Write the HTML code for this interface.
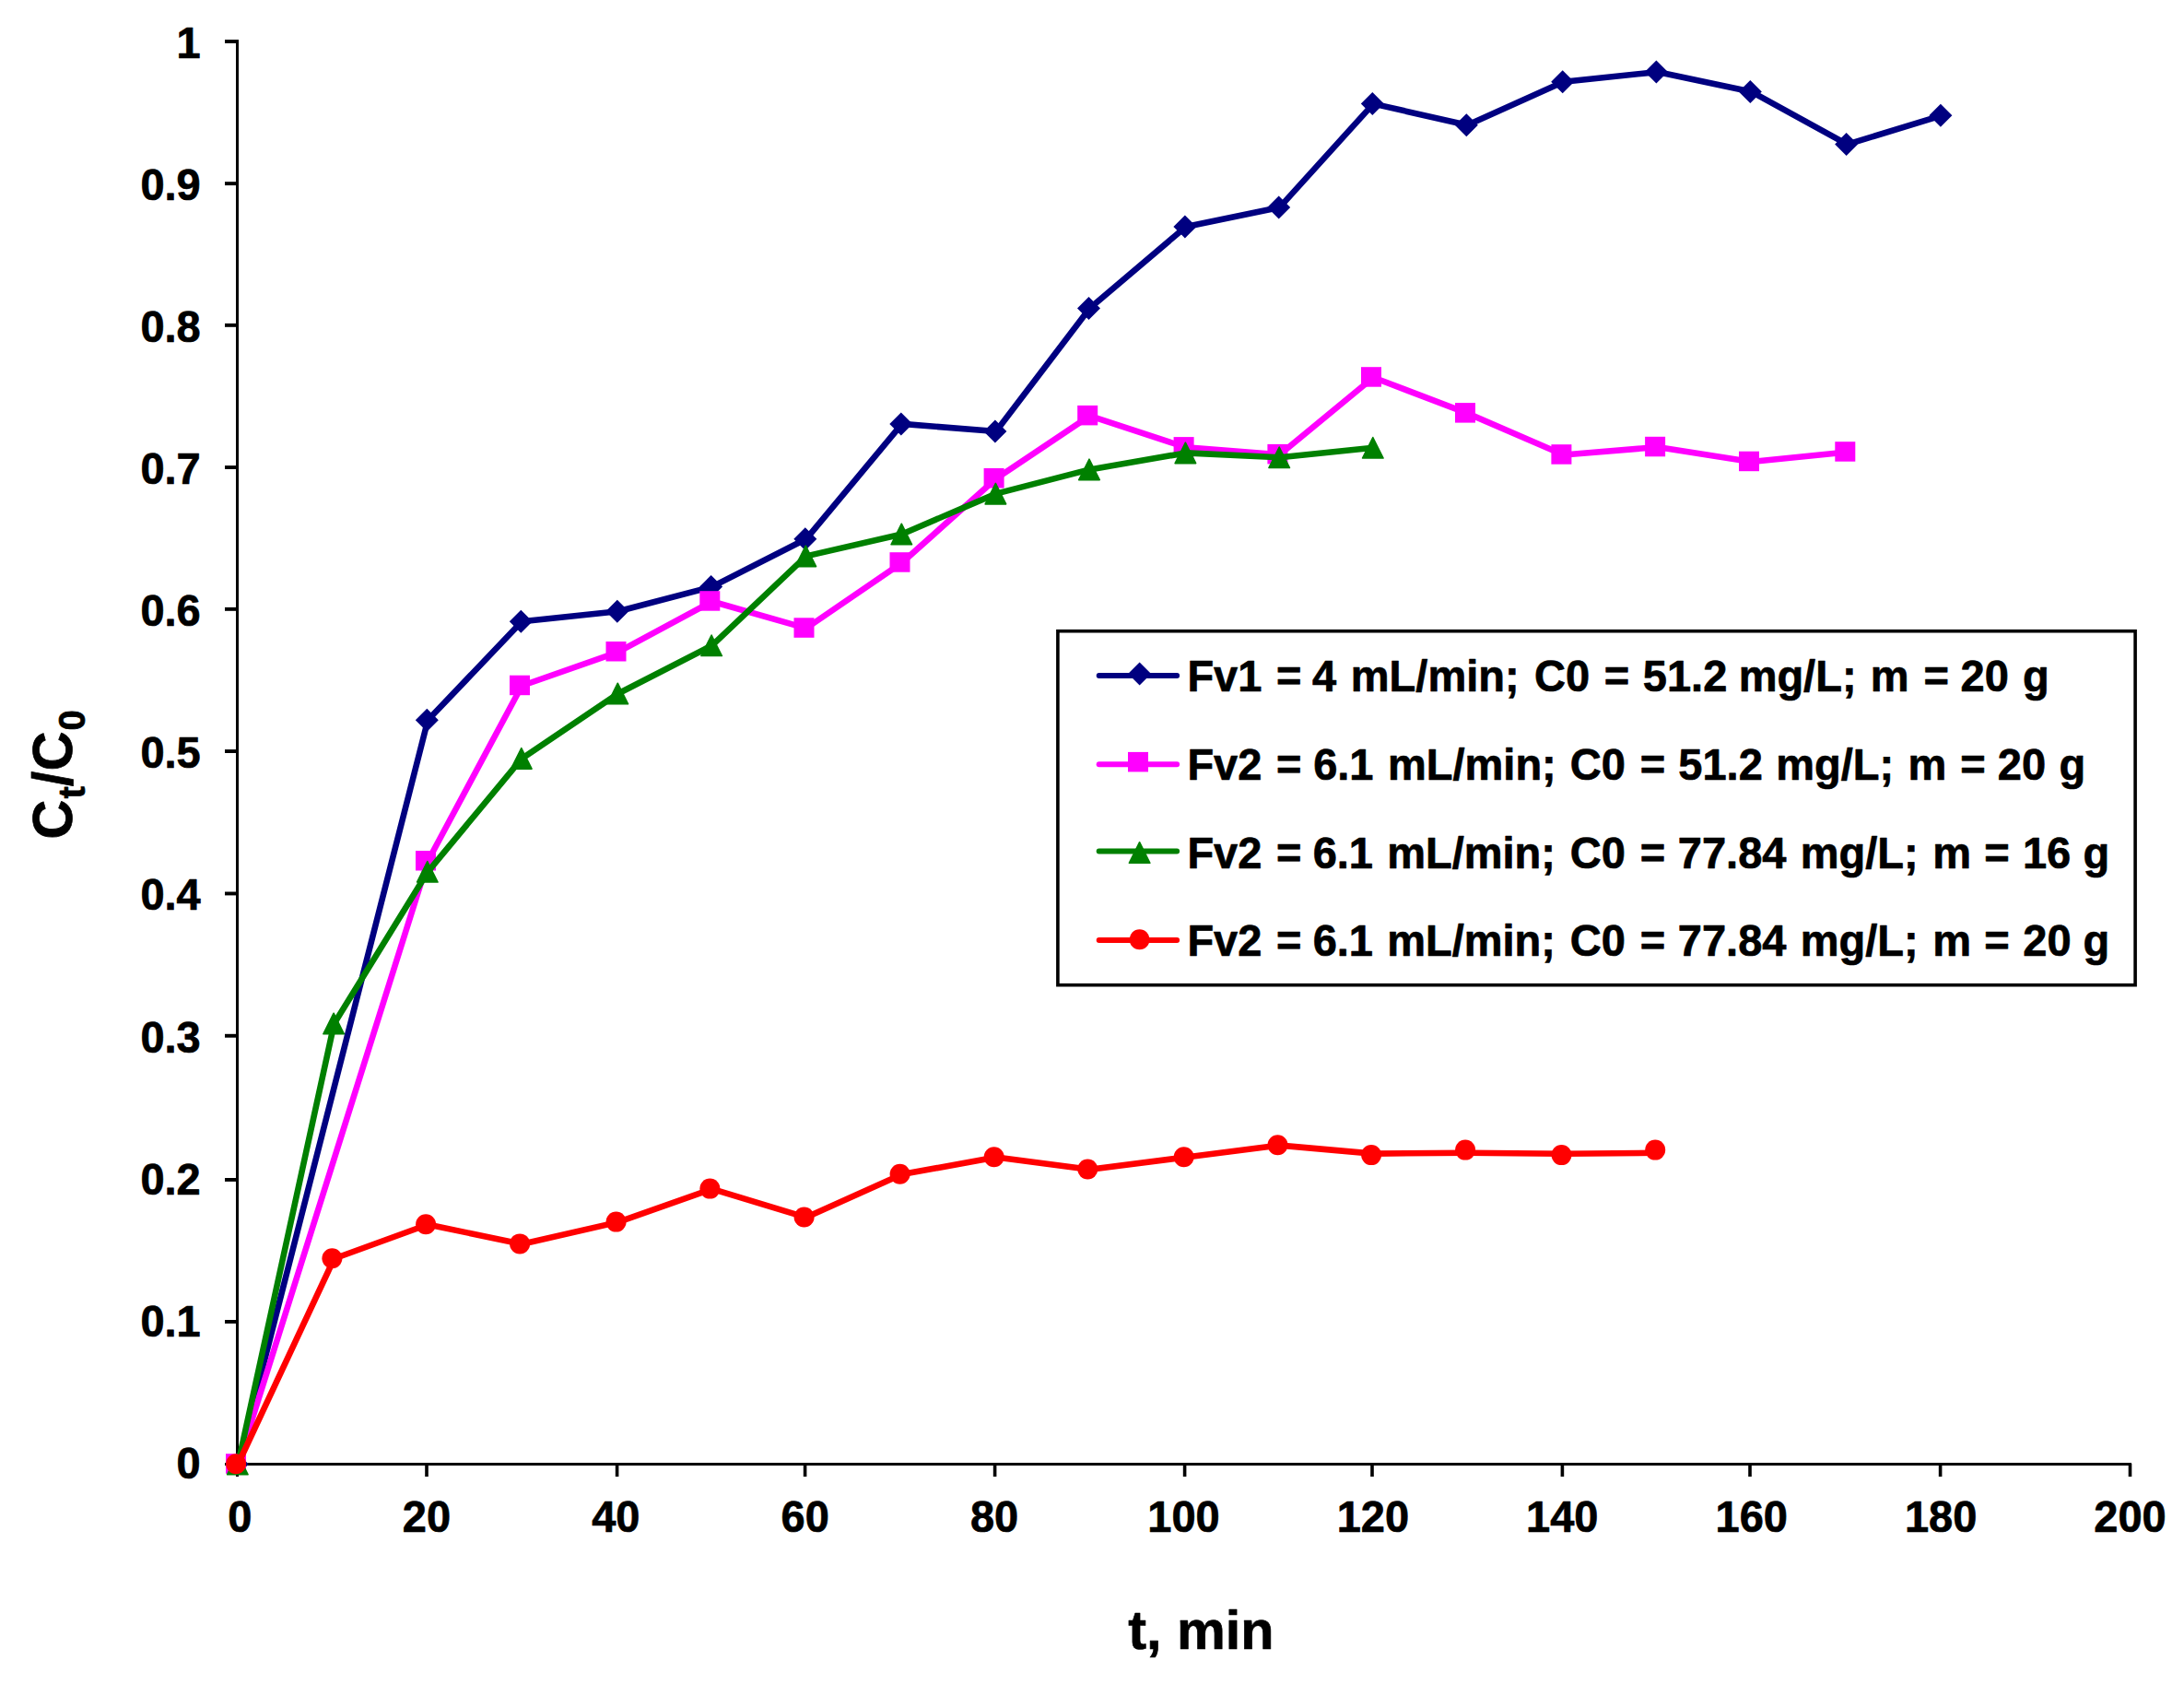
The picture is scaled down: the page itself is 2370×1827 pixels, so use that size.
<!DOCTYPE html>
<html lang="en"><head><meta charset="utf-8"><title>Breakthrough curves</title>
<style>html,body{margin:0;padding:0;background:#fff}body{width:2370px;height:1827px;overflow:hidden}svg{display:block}text{font-family:"Liberation Sans",Arial,Helvetica,sans-serif;font-weight:bold;fill:#000;stroke:#000;stroke-width:0.7px;stroke-linejoin:round}.tk,.lg{font-size:47px}.ti{font-size:59.4px}.sb{font-size:40px}</style></head><body>
<svg width="2370" height="1827" viewBox="0 0 2370 1827">
<rect x="0" y="0" width="2370" height="1827" fill="#fff"/>
<g fill="#000">
<rect x="256" y="43" width="3" height="1559"/>
<rect x="244" y="1587" width="2069" height="3"/>
<rect x="244" y="1432" width="13" height="3.9"/>
<rect x="244" y="1278" width="13" height="3.9"/>
<rect x="244" y="1121.8" width="13" height="3.9"/>
<rect x="244" y="967.5" width="13" height="3.9"/>
<rect x="244" y="813.1" width="13" height="3.9"/>
<rect x="244" y="658.9" width="13" height="3.9"/>
<rect x="244" y="505.1" width="13" height="3.9"/>
<rect x="244" y="350.9" width="13" height="3.9"/>
<rect x="244" y="197.2" width="13" height="3.9"/>
<rect x="244" y="43" width="13" height="3.9"/>
<rect x="461.2" y="1588" width="3.6" height="14"/>
<rect x="667.8" y="1588" width="3.6" height="14"/>
<rect x="871.8" y="1588" width="3.6" height="14"/>
<rect x="1077.8" y="1588" width="3.6" height="14"/>
<rect x="1283.8" y="1588" width="3.6" height="14"/>
<rect x="1487.2" y="1588" width="3.6" height="14"/>
<rect x="1693.6" y="1588" width="3.6" height="14"/>
<rect x="1897.2" y="1588" width="3.6" height="14"/>
<rect x="2103.8" y="1588" width="3.6" height="14"/>
<rect x="2309.7" y="1588" width="3.6" height="14"/>
</g>
<g>
<text class="tk" text-anchor="end" transform="translate(217.7 1603.7) scale(1 1.025)">0</text>
<text class="tk" text-anchor="end" transform="translate(217.7 1449.6) scale(1 1.025)">0.1</text>
<text class="tk" text-anchor="end" transform="translate(217.7 1295.5) scale(1 1.025)">0.2</text>
<text class="tk" text-anchor="end" transform="translate(217.7 1141.5) scale(1 1.025)">0.3</text>
<text class="tk" text-anchor="end" transform="translate(217.7 987.4) scale(1 1.025)">0.4</text>
<text class="tk" text-anchor="end" transform="translate(217.7 833.3) scale(1 1.025)">0.5</text>
<text class="tk" text-anchor="end" transform="translate(217.7 679.2) scale(1 1.025)">0.6</text>
<text class="tk" text-anchor="end" transform="translate(217.7 525.1) scale(1 1.025)">0.7</text>
<text class="tk" text-anchor="end" transform="translate(217.7 371.1) scale(1 1.025)">0.8</text>
<text class="tk" text-anchor="end" transform="translate(217.7 217) scale(1 1.025)">0.9</text>
<text class="tk" text-anchor="end" transform="translate(217.7 62.9) scale(1 1.025)">1</text>
</g>
<g>
<text class="tk" text-anchor="middle" transform="translate(260.3 1661.7) scale(1 1.025)">0</text>
<text class="tk" text-anchor="middle" transform="translate(462.9 1661.7) scale(1 1.025)">20</text>
<text class="tk" text-anchor="middle" transform="translate(668.3 1661.7) scale(1 1.025)">40</text>
<text class="tk" text-anchor="middle" transform="translate(873.7 1661.7) scale(1 1.025)">60</text>
<text class="tk" text-anchor="middle" transform="translate(1079.1 1661.7) scale(1 1.025)">80</text>
<text class="tk" text-anchor="middle" transform="translate(1284.5 1661.7) scale(1 1.025)">100</text>
<text class="tk" text-anchor="middle" transform="translate(1489.9 1661.7) scale(1 1.025)">120</text>
<text class="tk" text-anchor="middle" transform="translate(1695.3 1661.7) scale(1 1.025)">140</text>
<text class="tk" text-anchor="middle" transform="translate(1900.7 1661.7) scale(1 1.025)">160</text>
<text class="tk" text-anchor="middle" transform="translate(2106.1 1661.7) scale(1 1.025)">180</text>
<text class="tk" text-anchor="middle" transform="translate(2311.5 1661.7) scale(1 1.025)">200</text>
</g>
<text class="ti" x="1224.2" y="1789.2">t, min</text>
<g transform="translate(78.3 911) rotate(-90) scale(1 1.025)"><text class="ti" x="0.5" y="0">C<tspan class="sb" x="44.5" dy="12.9">t</tspan><tspan x="57.7" dy="-12.9">/</tspan><tspan x="74.7">C</tspan><tspan class="sb" x="118.5" dy="12.9">0</tspan></text></g>
<g>
<polyline points="257,1588.5 463,781.3 565,674.3 669.5,663.3 771.3,636.6 873.5,584.8 977.5,459.9 1079.6,468 1181.2,334.6 1285.6,245.9 1387.4,224.9 1489,112.6 1591,135.8 1695.4,88.7 1797.1,78.1 1899,99.4 2003.3,156.6 2105.6,125.3" fill="none" stroke="#000080" stroke-width="6.6" stroke-linejoin="round" stroke-linecap="round" transform="translate(1.3 0)"/>
<path d="M257.3 1576L269.8 1588.5L257.3 1601L244.8 1588.5Z" fill="#000080"/>
<path d="M463.3 768.8L475.8 781.3L463.3 793.8L450.8 781.3Z" fill="#000080"/>
<path d="M565.3 661.8L577.8 674.3L565.3 686.8L552.8 674.3Z" fill="#000080"/>
<path d="M669.8 650.8L682.3 663.3L669.8 675.8L657.3 663.3Z" fill="#000080"/>
<path d="M771.6 624.1L784.1 636.6L771.6 649.1L759.1 636.6Z" fill="#000080"/>
<path d="M873.8 572.3L886.3 584.8L873.8 597.3L861.3 584.8Z" fill="#000080"/>
<path d="M977.8 447.4L990.3 459.9L977.8 472.4L965.3 459.9Z" fill="#000080"/>
<path d="M1079.9 455.5L1092.4 468L1079.9 480.5L1067.4 468Z" fill="#000080"/>
<path d="M1181.5 322.1L1194 334.6L1181.5 347.1L1169 334.6Z" fill="#000080"/>
<path d="M1285.9 233.4L1298.4 245.9L1285.9 258.4L1273.4 245.9Z" fill="#000080"/>
<path d="M1387.7 212.4L1400.2 224.9L1387.7 237.4L1375.2 224.9Z" fill="#000080"/>
<path d="M1489.3 100.1L1501.8 112.6L1489.3 125.1L1476.8 112.6Z" fill="#000080"/>
<path d="M1591.3 123.3L1603.8 135.8L1591.3 148.3L1578.8 135.8Z" fill="#000080"/>
<path d="M1695.7 76.2L1708.2 88.7L1695.7 101.2L1683.2 88.7Z" fill="#000080"/>
<path d="M1797.4 65.6L1809.9 78.1L1797.4 90.6L1784.9 78.1Z" fill="#000080"/>
<path d="M1899.3 86.9L1911.8 99.4L1899.3 111.9L1886.8 99.4Z" fill="#000080"/>
<path d="M2003.6 144.1L2016.1 156.6L2003.6 169.1L1991.1 156.6Z" fill="#000080"/>
<path d="M2105.9 112.8L2118.4 125.3L2105.9 137.8L2093.4 125.3Z" fill="#000080"/>
</g>
<g>
<polyline points="257,1588.5 463,934.3 565,744 669.5,707.3 771.3,652.5 873.5,681.6 977.5,610.5 1079.6,519.3 1181.2,451.2 1285.6,485.4 1387.4,493.2 1489,409.5 1591,448.4 1695.4,493.5 1797.1,485.1 1899,501 2003.3,490.5" fill="none" stroke="#ff00ff" stroke-width="6.6" stroke-linejoin="round" stroke-linecap="round" transform="translate(1.3 0)"/>
<rect x="245" y="1577.2" width="22" height="21.5" fill="#ff00ff"/>
<rect x="451" y="923" width="22" height="21.5" fill="#ff00ff"/>
<rect x="553" y="732.7" width="22" height="21.5" fill="#ff00ff"/>
<rect x="657.5" y="696" width="22" height="21.5" fill="#ff00ff"/>
<rect x="759.3" y="641.2" width="22" height="21.5" fill="#ff00ff"/>
<rect x="861.5" y="670.3" width="22" height="21.5" fill="#ff00ff"/>
<rect x="965.5" y="599.2" width="22" height="21.5" fill="#ff00ff"/>
<rect x="1067.6" y="508" width="22" height="21.5" fill="#ff00ff"/>
<rect x="1169.2" y="439.9" width="22" height="21.5" fill="#ff00ff"/>
<rect x="1273.6" y="474.1" width="22" height="21.5" fill="#ff00ff"/>
<rect x="1375.4" y="481.9" width="22" height="21.5" fill="#ff00ff"/>
<rect x="1477" y="398.2" width="22" height="21.5" fill="#ff00ff"/>
<rect x="1579" y="437.1" width="22" height="21.5" fill="#ff00ff"/>
<rect x="1683.4" y="482.2" width="22" height="21.5" fill="#ff00ff"/>
<rect x="1785.1" y="473.8" width="22" height="21.5" fill="#ff00ff"/>
<rect x="1887" y="489.7" width="22" height="21.5" fill="#ff00ff"/>
<rect x="1991.3" y="479.2" width="22" height="21.5" fill="#ff00ff"/>
</g>
<g>
<polyline points="257,1588.5 361.3,1110.5 463,945.8 565,822.9 669.5,752.5 771.3,700.3 873.5,603.4 977.5,579.5 1079.6,535.6 1181.2,509.4 1285.6,491.4 1387.4,496.3 1489,485.8" fill="none" stroke="#008000" stroke-width="6.6" stroke-linejoin="round" stroke-linecap="round" transform="translate(1.3 0)"/>
<path d="M257.8 1577.2L269.1 1599.8L246.5 1599.8Z" fill="#008000" stroke="#008000" stroke-width="1.5" stroke-linejoin="round"/>
<path d="M362.1 1099.2L373.4 1121.8L350.8 1121.8Z" fill="#008000" stroke="#008000" stroke-width="1.5" stroke-linejoin="round"/>
<path d="M463.8 934.5L475.1 957.1L452.5 957.1Z" fill="#008000" stroke="#008000" stroke-width="1.5" stroke-linejoin="round"/>
<path d="M565.8 811.6L577.1 834.2L554.5 834.2Z" fill="#008000" stroke="#008000" stroke-width="1.5" stroke-linejoin="round"/>
<path d="M670.3 741.2L681.6 763.8L659 763.8Z" fill="#008000" stroke="#008000" stroke-width="1.5" stroke-linejoin="round"/>
<path d="M772.1 689L783.4 711.6L760.8 711.6Z" fill="#008000" stroke="#008000" stroke-width="1.5" stroke-linejoin="round"/>
<path d="M874.3 592.1L885.6 614.7L863 614.7Z" fill="#008000" stroke="#008000" stroke-width="1.5" stroke-linejoin="round"/>
<path d="M978.3 568.2L989.6 590.8L967 590.8Z" fill="#008000" stroke="#008000" stroke-width="1.5" stroke-linejoin="round"/>
<path d="M1080.4 524.3L1091.7 546.9L1069.1 546.9Z" fill="#008000" stroke="#008000" stroke-width="1.5" stroke-linejoin="round"/>
<path d="M1182 498.1L1193.3 520.7L1170.7 520.7Z" fill="#008000" stroke="#008000" stroke-width="1.5" stroke-linejoin="round"/>
<path d="M1286.4 480.1L1297.7 502.7L1275.1 502.7Z" fill="#008000" stroke="#008000" stroke-width="1.5" stroke-linejoin="round"/>
<path d="M1388.2 485L1399.5 507.6L1376.9 507.6Z" fill="#008000" stroke="#008000" stroke-width="1.5" stroke-linejoin="round"/>
<path d="M1489.8 474.5L1501.1 497.1L1478.5 497.1Z" fill="#008000" stroke="#008000" stroke-width="1.5" stroke-linejoin="round"/>
</g>
<g>
<polyline points="257,1588.5 361.3,1365.5 463,1328.5 565,1349.7 669.5,1325.9 771.3,1289.9 873.5,1320.8 977.5,1274.1 1079.6,1255.5 1181.2,1268.8 1285.6,1255.5 1387.4,1242.6 1489,1251.6 1591,1250.7 1695.4,1251.8 1797.1,1250.8" fill="none" stroke="#ff0000" stroke-width="6.6" stroke-linejoin="round" stroke-linecap="round" transform="translate(1.3 0)"/>
<circle cx="256.1" cy="1588.2" r="11" fill="#ff0000"/>
<circle cx="360.4" cy="1365.2" r="11" fill="#ff0000"/>
<circle cx="462.1" cy="1328.2" r="11" fill="#ff0000"/>
<circle cx="564.1" cy="1349.4" r="11" fill="#ff0000"/>
<circle cx="668.6" cy="1325.6" r="11" fill="#ff0000"/>
<circle cx="770.4" cy="1289.6" r="11" fill="#ff0000"/>
<circle cx="872.6" cy="1320.5" r="11" fill="#ff0000"/>
<circle cx="976.6" cy="1273.8" r="11" fill="#ff0000"/>
<circle cx="1078.7" cy="1255.2" r="11" fill="#ff0000"/>
<circle cx="1180.3" cy="1268.5" r="11" fill="#ff0000"/>
<circle cx="1284.7" cy="1255.2" r="11" fill="#ff0000"/>
<circle cx="1386.5" cy="1242.3" r="11" fill="#ff0000"/>
<circle cx="1488.1" cy="1253.1" r="11" fill="#ff0000"/>
<circle cx="1590.1" cy="1247.6" r="11" fill="#ff0000"/>
<circle cx="1694.5" cy="1253.1" r="11" fill="#ff0000"/>
<circle cx="1796.2" cy="1247.6" r="11" fill="#ff0000"/>
</g>
<rect x="1147.9" y="684.7" width="1169.2" height="384" fill="#fff" stroke="#000" stroke-width="3.6"/>
<line x1="1192.7" y1="733" x2="1277.1" y2="733" stroke="#000080" stroke-width="6" stroke-linecap="round"/>
<path d="M1236.6 718.5L1249.1 731L1236.6 743.5L1224.1 731Z" fill="#000080"/>
<text class="lg" transform="translate(1288.4 750.2) scale(1 1.025)">Fv1<tspan x="83.6"> =</tspan><tspan x="122.6"> 4</tspan><tspan x="164.4"> mL/min;</tspan><tspan x="363.5"> C0</tspan><tspan x="439.2"> =</tspan><tspan x="481.4"> 51.2</tspan><tspan x="585.2"> mg/L;</tspan><tspan x="728.4"> m</tspan><tspan x="786.1"> =</tspan><tspan x="826.1"> 20</tspan><tspan x="893.5"> g</tspan></text>
<line x1="1192.7" y1="829.2" x2="1277.1" y2="829.2" stroke="#ff00ff" stroke-width="6" stroke-linecap="round"/>
<rect x="1224" y="815.9" width="22" height="21.5" fill="#ff00ff"/>
<text class="lg" transform="translate(1288.4 846) scale(1 1.025)">Fv2<tspan x="83.6"> =</tspan><tspan x="123.7"> 6.1</tspan><tspan x="204.6"> mL/min;</tspan><tspan x="402.4"> C0</tspan><tspan x="478.2"> =</tspan><tspan x="519.9"> 51.2</tspan><tspan x="625.8"> mg/L;</tspan><tspan x="769"> m</tspan><tspan x="825.7"> =</tspan><tspan x="866.3"> 20</tspan><tspan x="933.1"> g</tspan></text>
<line x1="1192.7" y1="923.6" x2="1277.1" y2="923.6" stroke="#008000" stroke-width="6" stroke-linecap="round"/>
<path d="M1236.6 913.7L1247.9 936.3L1225.3 936.3Z" fill="#008000" stroke="#008000" stroke-width="1.5" stroke-linejoin="round"/>
<text class="lg" transform="translate(1288.4 941.6) scale(1 1.025)">Fv2<tspan x="83.6"> =</tspan><tspan x="123.2"> 6.1</tspan><tspan x="203.8"> mL/min;</tspan><tspan x="402.4"> C0</tspan><tspan x="478.2"> =</tspan><tspan x="519.4"> 77.84</tspan><tspan x="652.3"> mg/L;</tspan><tspan x="795.7"> m</tspan><tspan x="851.8"> =</tspan><tspan x="893.5"> 16</tspan><tspan x="959"> g</tspan></text>
<line x1="1192.7" y1="1020" x2="1277.1" y2="1020" stroke="#ff0000" stroke-width="6" stroke-linecap="round"/>
<circle cx="1236.6" cy="1019.3" r="11" fill="#ff0000"/>
<text class="lg" transform="translate(1288.4 1036.8) scale(1 1.025)">Fv2<tspan x="83.6"> =</tspan><tspan x="123.2"> 6.1</tspan><tspan x="203.8"> mL/min;</tspan><tspan x="402.4"> C0</tspan><tspan x="478.2"> =</tspan><tspan x="519.4"> 77.84</tspan><tspan x="652.3"> mg/L;</tspan><tspan x="795.7"> m</tspan><tspan x="851.8"> =</tspan><tspan x="893.8"> 20</tspan><tspan x="959"> g</tspan></text>
</svg></body></html>
